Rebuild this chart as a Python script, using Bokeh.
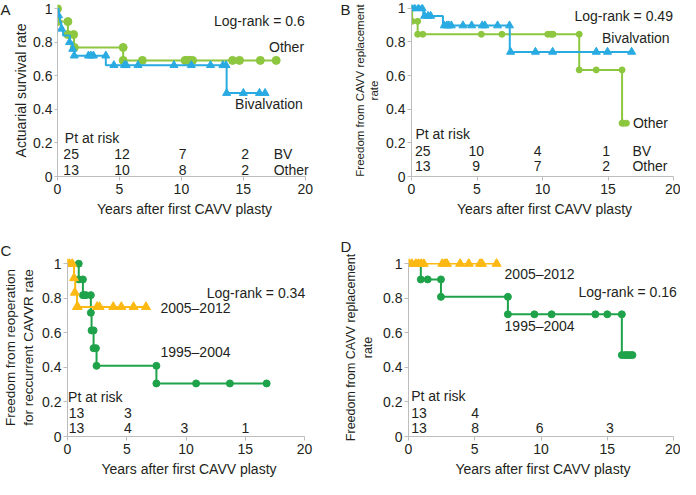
from bokeh.plotting import figure
from bokeh.layouts import row, column
from bokeh.models import Range1d, FixedTicker, Label, CustomJSTickFormatter
from bokeh.core.properties import value
from bokeh.embed import file_html
from bokeh.resources import INLINE

FONT = "Liberation Sans"
TXT = "#231F20"
AX = "#BDBDBD"
BLUE = "#29ABE2"
LGREEN = "#8DC63F"
DGREEN = "#1FA34A"
YELLOW = "#FDB913"

X_TICKS = [0, 5, 10, 15, 20]
Y_TICKS = [0, 0.2, 0.4, 0.6, 0.8, 1.0]

# ---------------- Panel A: actuarial survival ----------------
A_bv_event_t = [0.1, 0.2, 0.3, 0.45, 1.0, 1.2, 1.35, 3.9, 13.65]
A_bv_event_s = [0.96, 0.92, 0.88, 0.84, 0.80, 0.76, 0.72, 0.663, 0.497]
A_bv_end = 16.8
A_bv_mark_t = [0.08, 0.33, 0.97, 1.23, 1.35, 2.5, 2.7, 2.9, 3.9, 4.55, 5.4, 5.55,
               6.5, 9.4, 10.8, 12.35, 13.35, 13.6, 13.65, 15.0, 16.3, 16.75]
A_bv_mark_s = [0.96, 0.88, 0.80, 0.76, 0.72, 0.72, 0.72, 0.72, 0.72, 0.663, 0.663, 0.663,
               0.663, 0.663, 0.663, 0.663, 0.663, 0.663, 0.497, 0.497, 0.497, 0.497]

A_ot_event_t = [0.02, 0.84, 1.33, 5.3]
A_ot_event_s = [0.923, 0.846, 0.769, 0.692]
A_ot_end = 17.65
A_ot_mark_t = [0.0, 0.0, 0.84, 0.84, 1.3, 1.36, 5.3, 5.3, 6.85, 10.3, 10.5, 10.68, 10.9,
               14.13, 14.69, 16.37, 17.65]
A_ot_mark_s = [1.0, 0.923, 0.923, 0.846, 0.846, 0.769, 0.769, 0.692, 0.692, 0.692, 0.692,
               0.692, 0.692, 0.692, 0.692, 0.692, 0.692]

A_risk_bv = [25, 12, 7, 2]
A_risk_other = [13, 10, 8, 2]

# ---------------- Panel B: freedom from CAVV replacement ----------------
B_bv_event_t = [0.9, 2.4, 7.5]
B_bv_event_s = [0.955, 0.898, 0.741]
B_bv_end = 16.8
B_bv_mark_t = [0.0, 0.25, 0.54, 0.81, 1.0, 1.26, 1.46, 2.5, 2.7, 2.85, 3.04, 3.93, 4.59,
               5.4, 5.6, 6.57, 7.48, 7.56, 9.46, 10.77, 14.1, 14.96, 16.8]
B_bv_mark_s = [1.0, 1.0, 1.0, 1.0, 0.955, 0.955, 0.955, 0.898, 0.898, 0.898, 0.898, 0.898,
               0.898, 0.898, 0.898, 0.898, 0.898, 0.741, 0.741, 0.741, 0.741, 0.741, 0.741]

B_ot_event_t = [0.05, 0.47, 12.8, 16.07]
B_ot_event_s = [0.923, 0.846, 0.634, 0.317]
B_ot_end = 16.4
B_ot_mark_t = [0.0, 0.05, 0.47, 0.47, 0.86, 5.33, 6.9, 10.4, 10.65, 10.8, 12.8, 12.8,
               14.1, 16.07, 16.07, 16.2, 16.4]
B_ot_mark_s = [1.0, 0.923, 0.923, 0.846, 0.846, 0.846, 0.846, 0.846, 0.846, 0.846, 0.846,
               0.634, 0.634, 0.634, 0.317, 0.317, 0.317]

B_risk_bv = [25, 10, 4, 1]
B_risk_other = [13, 9, 7, 2]

# ---------------- Panel C: reoperation for recurrent CAVVR ----------------
C_late_event_t = [0.55, 0.65, 0.8]
C_late_event_s = [0.917, 0.833, 0.75]
C_late_end = 6.65
C_late_mark_t = [0.0, 0.15, 0.4, 0.55, 0.62, 0.8, 0.86, 2.49, 2.7, 3.86, 4.54, 5.57, 6.62]
C_late_mark_s = [1.0, 1.0, 1.0, 0.917, 0.833, 0.75, 0.75, 0.75, 0.75, 0.75, 0.75, 0.75, 0.75]

C_early_event_t = [0.95, 1.3, 1.97, 2.03, 2.2, 2.45, 7.5]
C_early_event_s = [0.909, 0.818, 0.716, 0.614, 0.511, 0.409, 0.307]
C_early_end = 16.8
C_early_mark_t = [0.95, 0.95, 1.3, 1.3, 1.41, 1.55, 1.97, 1.97, 2.03, 2.2, 2.2, 2.4, 2.45,
                  7.5, 7.5, 10.85, 13.7, 16.8]
C_early_mark_s = [1.0, 0.909, 0.909, 0.818, 0.818, 0.818, 0.818, 0.716, 0.614, 0.614,
                  0.511, 0.511, 0.409, 0.409, 0.307, 0.307, 0.307, 0.307]

C_risk_late = [13, 3]
C_risk_early = [13, 4, 3, 1]

# ---------------- Panel D: freedom from CAVV replacement by era ----------------
D_late_event_t = []
D_late_event_s = []
D_late_end = 6.65
D_late_mark_t = [0.05, 0.25, 0.55, 0.75, 0.95, 1.15, 2.55, 2.75, 2.9, 3.9, 4.55, 5.4,
                 5.55, 6.65]
D_late_mark_s = [1.0] * 14

D_early_event_t = [0.93, 2.45, 7.5, 16.1]
D_early_event_s = [0.909, 0.808, 0.707, 0.471]
D_early_end = 16.9
D_early_mark_t = [0.93, 1.45, 2.45, 2.45, 7.5, 7.5, 9.5, 10.8, 14.1, 15.0, 16.1, 16.1,
                  16.35, 16.5, 16.7, 16.9]
D_early_mark_s = [0.909, 0.909, 0.909, 0.808, 0.808, 0.707, 0.707, 0.707, 0.707, 0.707,
                  0.707, 0.471, 0.471, 0.471, 0.471, 0.471]

D_risk_late = [13, 4]
D_risk_early = [13, 8, 6, 3]


def make_fig(width, height, bl, br, bt, bb, xmax, ymax, ylabel, ylabel_size,
             tick_out=4, lab_standoff=2, axlab_standoff=3):
    p = figure(width=width, height=height, x_range=Range1d(0, xmax),
               y_range=Range1d(0, ymax), output_backend="svg", toolbar_location=None,
               min_border_left=bl, min_border_right=br, min_border_top=bt,
               min_border_bottom=bb)
    p.outline_line_color = None
    p.grid.visible = False
    p.background_fill_color = "white"
    p.border_fill_color = "white"
    for ax in (p.xaxis[0], p.yaxis[0]):
        ax.axis_line_color = AX
        ax.axis_line_width = 1
        ax.major_tick_line_color = AX
        ax.major_tick_out = 4
        ax.major_tick_in = 0
        ax.minor_tick_out = 0
        ax.minor_tick_in = 0
        ax.major_label_text_font = FONT
        ax.major_label_text_font_size = "14px"
        ax.major_label_text_color = TXT
        ax.axis_label_text_font = FONT
        ax.axis_label_text_font_style = "normal"
        ax.axis_label_text_color = TXT
    xa = p.xaxis[0]
    xa.ticker = FixedTicker(ticks=X_TICKS)
    xa.bounds = (0, 20)
    xa.axis_label = "Years after first CAVV plasty"
    xa.axis_label_text_font_size = "14px"
    xa.major_label_standoff = 3
    xa.axis_label_standoff = 4
    ya = p.yaxis[0]
    ya.ticker = FixedTicker(ticks=Y_TICKS)
    ya.bounds = (0, 1)
    ya.formatter = CustomJSTickFormatter(code="return String(Math.round(tick*10)/10);")
    ya.axis_label = ylabel
    ya.axis_label_text_font_size = ylabel_size
    ya.major_tick_out = tick_out
    ya.major_label_standoff = lab_standoff
    ya.axis_label_standoff = axlab_standoff
    return p


def draw_curve(p, ev_t, ev_s, end, mk_t, mk_s, color, marker, size, lw):
    xs = [0.0] + list(ev_t) + [end]
    ys = [1.0] + list(ev_s) + [ev_s[-1] if ev_s else 1.0]
    p.step(xs, ys, mode="after", line_color=color, line_width=lw)
    p.scatter(mk_t, mk_s, marker=marker, size=size, fill_color=color, line_color=color)


def txt(p, xs, ys, texts, align="left", size="14px"):
    p.text(x=xs, y=ys, text=[str(t) for t in texts], text_font=value(FONT),
           text_font_size=size, text_align=align, text_baseline="middle", text_color=TXT)


def letter(p, s, x, y, side):
    lab = Label(x=x, y=y, x_units="canvas", y_units="canvas", text=s)
    lab.text_font = FONT
    lab.text_font_size = "15px"
    lab.text_color = TXT
    lab.text_baseline = "top"
    lab.text_align = "left"
    p.add_layout(lab, side)


# ---- A ----
pA = make_fig(340, 236, 44, 29, 4, 60, 20.5, 1.025, "Actuarial survival rate", "14px",
              tick_out=3, lab_standoff=2, axlab_standoff=1)
draw_curve(pA, A_ot_event_t, A_ot_event_s, A_ot_end, A_ot_mark_t, A_ot_mark_s,
           LGREEN, "circle", 8, 2)
draw_curve(pA, A_bv_event_t, A_bv_event_s, A_bv_end, A_bv_mark_t, A_bv_mark_s,
           BLUE, "triangle", 8, 2)
txt(pA, [19.95], [0.928], ["Log-rank = 0.6"], "right")
txt(pA, [19.9], [0.77], ["Other"], "right")
txt(pA, [19.8], [0.43], ["Bivalvation"], "right")
txt(pA, [0.59], [0.23], ["Pt at risk"])
txt(pA, [1.1, 5.2, 10.1, 15.15], [0.133] * 4, A_risk_bv, "center")
txt(pA, [1.1, 5.2, 10.1, 15.15], [0.039] * 4, A_risk_other, "center")
txt(pA, [17.45, 17.45], [0.133, 0.039], ["BV", "Other"])
letter(pA, "A", 0, 0, "left")

# ---- B ----
pB = make_fig(340, 236, 70, 3, 4, 57, 20.3, 1.023,
              "Freedom from CAVV replacement\nrate", "11.5px")
draw_curve(pB, B_ot_event_t, B_ot_event_s, B_ot_end, B_ot_mark_t, B_ot_mark_s,
           LGREEN, "circle", 6, 2)
draw_curve(pB, B_bv_event_t, B_bv_event_s, B_bv_end, B_bv_mark_t, B_bv_mark_s,
           BLUE, "triangle", 8, 2)
txt(pB, [19.95], [0.952], ["Log-rank = 0.49"], "right")
txt(pB, [19.7], [0.823], ["Bivalvation"], "right")
txt(pB, [16.9], [0.32], ["Other"])
txt(pB, [0.3], [0.25], ["Pt at risk"])
txt(pB, [0.86, 4.94, 9.63, 14.86], [0.154] * 4, B_risk_bv, "center")
txt(pB, [0.86, 4.94, 9.63, 14.86], [0.063] * 4, B_risk_other, "center")
txt(pB, [16.86, 16.86], [0.154, 0.063], ["BV", "Other"])
letter(pB, "B", 0, 0, "left")

# ---- C ----
pC = make_fig(340, 243, 62, 30, 18, 41, 20.5, 1.03,
              "Freedom from reoperation\nfor reccurrent CAVVR rate", "13.5px")
draw_curve(pC, C_early_event_t, C_early_event_s, C_early_end, C_early_mark_t,
           C_early_mark_s, DGREEN, "circle", 7, 2)
draw_curve(pC, C_late_event_t, C_late_event_s, C_late_end, C_late_mark_t, C_late_mark_s,
           YELLOW, "triangle", 9, 2)
txt(pC, [20.05], [0.83], ["Log-rank = 0.34"], "right")
txt(pC, [7.84], [0.744], ["2005\u20132012"])
txt(pC, [7.84], [0.49], ["1995\u20132004"])
txt(pC, [0.05], [0.229], ["Pt at risk"])
txt(pC, [0.76, 5.1], [0.134] * 2, C_risk_late, "center")
txt(pC, [0.76, 5.1, 9.86, 15.0], [0.049] * 4, C_risk_early, "center")
letter(pC, "C", 0, 5, "above")

# ---- D ----
pD = make_fig(340, 243, 68, 3, 22, 41, 20.3, 1.03,
              "Freedom from CAVV replacement\nrate", "12.5px", axlab_standoff=5)
draw_curve(pD, D_early_event_t, D_early_event_s, D_early_end, D_early_mark_t,
           D_early_mark_s, DGREEN, "circle", 7, 2)
draw_curve(pD, D_late_event_t, D_late_event_s, D_late_end, D_late_mark_t, D_late_mark_s,
           YELLOW, "triangle", 9, 1.5)
txt(pD, [20.25], [0.839], ["Log-rank = 0.16"], "right")
txt(pD, [7.25], [0.943], ["2005\u20132012"])
txt(pD, [7.25], [0.637], ["1995\u20132004"])
txt(pD, [0.2], [0.234], ["Pt at risk"])
txt(pD, [0.8, 5.03], [0.137] * 2, D_risk_late, "center")
txt(pD, [0.8, 5.03, 9.9, 15.2], [0.051] * 4, D_risk_early, "center")
letter(pD, "D", 0, 1, "above")

layout = column(row(pA, pB), row(pC, pD))
open("out.html", "w").write(file_html(layout, INLINE))
